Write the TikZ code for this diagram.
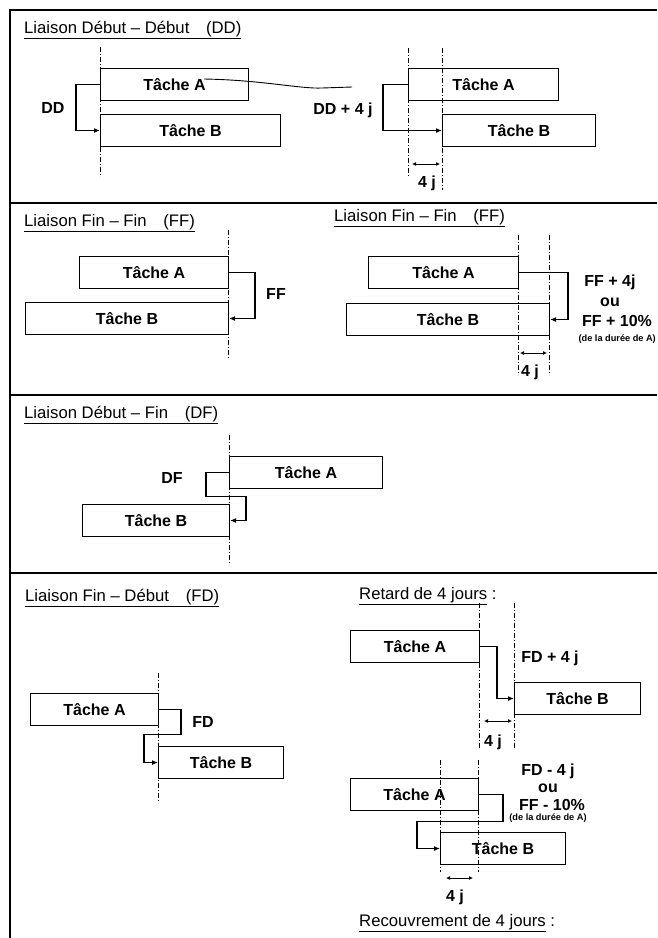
\documentclass[tikz,border=0pt]{standalone}
\usepackage{fontspec}
\setmainfont{Liberation Sans}
\usetikzlibrary{arrows.meta}
\tikzset{
  tache/.style={draw, line width=1pt, minimum height=32pt, inner sep=0pt, anchor=north west,
    font=\bfseries\fontsize{16}{19}\selectfont},
  lien/.style={line width=1.7pt, -{Latex[length=6pt,width=5pt]}},
  repere/.style={line width=0.6pt, dash pattern=on 5pt off 2pt on 1pt off 2pt},
  cote/.style={line width=0.8pt, {Latex[length=4pt,width=4pt]}-{Latex[length=4pt,width=4pt]}},
  titre/.style={anchor=west, inner sep=0pt, font=\fontsize{16.7}{20}\selectfont},
  etiq/.style={inner sep=0pt, font=\bfseries\fontsize{16}{19}\selectfont},
  petit/.style={inner sep=0pt, font=\bfseries\fontsize{9.2}{11}\selectfont},
  cadre/.style={line width=1.2pt}
}
\begin{document}
\begin{tikzpicture}[x=1pt,y=-1pt]
  \useasboundingbox (0,0) rectangle (657,938);
  % cadre et separations
  \draw[cadre] (657,10) -- (10,10) -- (10,938);
  \draw[cadre] (10,203) -- (657,203);
  \draw[cadre] (10,395) -- (657,395);
  \draw[cadre] (10,573) -- (657,573);

  % Debut - Debut
  \node[titre] (tDD) at (24,30) {\underline{Liaison Début – Début\quad(DD)}};
  \draw[repere] (100,47) -- (100,177);
  \node[tache, minimum width=148pt] (ddA) at (100,68) {Tâche A};
  \node[tache, minimum width=180pt] (ddB) at (100,114) {Tâche B};
  \draw[lien] (ddA.west) -- ++(-24,0) |- (ddB.west);
  \node[etiq] (lDD) at (53,108) {DD};
  \draw[line width=0.9pt] (204,79) .. controls (262,80) and (300,89) .. (322,88) -- (352,87);

  \draw[repere] (408,48) -- (408,177);
  \draw[repere] (442,48) -- (442,190);
  \node[tache, minimum width=150pt] (ddA2) at (408,68) {Tâche A};
  \node[tache, minimum width=153pt] (ddB2) at (442,114) {Tâche B};
  \draw[lien] (ddA2.west) -- ++(-25,0) |- (ddB2.west);
  \node[etiq] (lDD2) at (343,110) {DD + 4 j};
  \draw[cote] (412,164) -- (440,164);
  \node[etiq] (jDD) at (427,183) {4 j};

  % Fin - Fin
  \node[titre] (tFF) at (24,223) {\underline{Liaison Fin – Fin\quad(FF)}};
  \draw[repere] (228,230) -- (228,358);
  \node[tache, minimum width=149pt] (ffA) at (79,256) {Tâche A};
  \node[tache, minimum width=203pt] (ffB) at (25,302) {Tâche B};
  \draw[lien] (ffA.east) -- ++(26,0) |- (ffB.east);
  \node[etiq] (lFF) at (276,294) {FF};

  \node[titre] (tFF2) at (334,218) {\underline{Liaison Fin – Fin\quad(FF)}};
  \draw[repere] (518,235) -- (518,375);
  \draw[repere] (549,235) -- (549,375);
  \node[tache, minimum width=150pt] (ffA2) at (368,256) {Tâche A};
  \node[tache, minimum width=203pt] (ffB2) at (346,303) {Tâche B};
  \draw[lien] (ffA2.east) -- ++(49,0) |- (ffB2.east);
  \node[etiq] (lFF2) at (610,282) {FF + 4j};
  \node[etiq] (ouFF) at (610,302) {ou};
  \node[etiq] (pFF) at (617,321) {FF + 10\%};
  \node[petit, anchor=east] (dFF) at (656,339) {(de la durée de A)};
  \draw[cote] (520,353) -- (547,353);
  \node[etiq] (jFF) at (530,372) {4 j};

  % Debut - Fin
  \node[titre] (tDF) at (24,415) {\underline{Liaison Début – Fin\quad(DF)}};
  \draw[repere] (229,435) -- (229,565);
  \node[tache, minimum width=153pt] (dfA) at (229,456) {Tâche A};
  \node[tache, minimum width=147pt] (dfB) at (82,504) {Tâche B};
  \draw[lien] (dfA.west) -- ++(-23,0) -- ++(0,24) -- ++(40,0) |- (dfB.east);
  \node[etiq] (lDF) at (172,478) {DF};

  % Fin - Debut
  \node[titre] (tFD) at (25,598) {\underline{Liaison Fin – Début\quad(FD)}};
  \draw[repere] (158,673) -- (158,803);
  \node[tache, minimum width=128pt] (fdA) at (30,693) {Tâche A};
  \node[tache, minimum width=125pt] (fdB) at (158,746) {Tâche B};
  \draw[lien] (fdA.east) -- ++(22,0) -- ++(0,25) -- ++(-37,0) |- (fdB.west);
  \node[etiq] (lFD) at (203,722) {FD};

  \node[titre] (tRet) at (359,596) {\underline{Retard de 4 jours} :};
  \draw[repere] (479,603) -- (479,748);
  \draw[repere] (514,603) -- (514,748);
  \node[tache, minimum width=129pt] (rtA) at (350,630) {Tâche A};
  \node[tache, minimum width=126pt] (rtB) at (514,682) {Tâche B};
  \draw[lien] (rtA.east) -- ++(17,0) |- (rtB.west);
  \node[etiq] (lRet) at (550,658) {FD + 4 j};
  \draw[cote] (484,721) -- (512,721);
  \node[etiq] (jRet) at (493,742) {4 j};

  \draw[repere] (440,760) -- (440,872);
  \draw[repere] (478,760) -- (478,872);
  \node[tache, minimum width=128pt] (rcA) at (350,778) {Tâche A};
  \node[tache, minimum width=125pt] (rcB) at (440,832) {Tâche B};
  \draw[lien] (rcA.east) -- ++(24,0) -- ++(0,27) -- ++(-86,0) |- (rcB.west);
  \node[etiq] (lRec) at (548,771) {FD - 4 j};
  \node[etiq] (ouRec) at (548,788) {ou};
  \node[etiq] (pRec) at (552,805) {FF - 10\%};
  \node[petit] (dRec) at (548,818) {(de la durée de A)};
  \draw[cote] (446,878) -- (473,878);
  \node[etiq] (jRec) at (455,897) {4 j};
  \node[titre] (tRec) at (359,923) {\underline{Recouvrement de 4 jours} :};
\end{tikzpicture}
\end{document}
